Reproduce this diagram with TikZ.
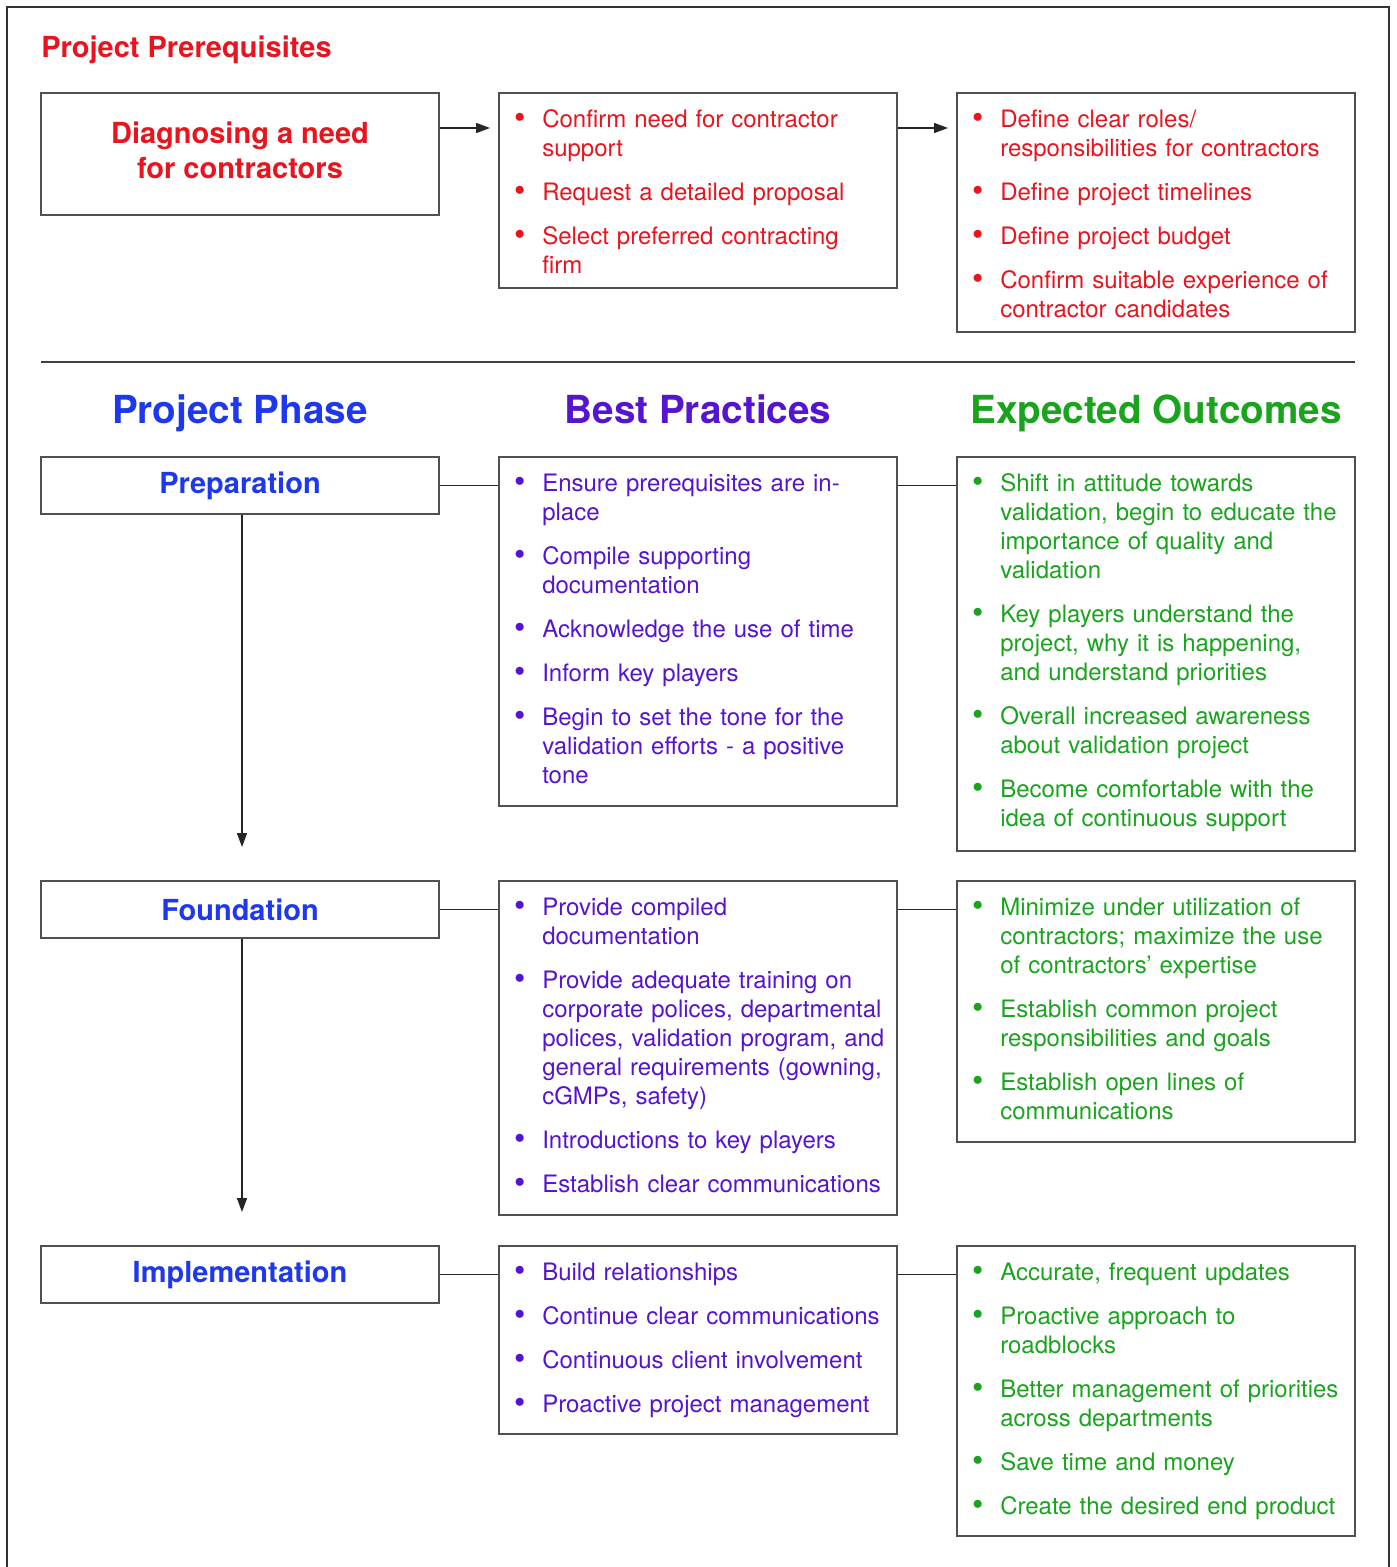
\documentclass[tikz,border=0pt]{standalone}
\usepackage{fontspec}
\setmainfont{TeX Gyre Heros}
\usetikzlibrary{arrows.meta,calc}
\definecolor{cred}{HTML}{E8141E}
\definecolor{cblue}{HTML}{1E38EE}
\definecolor{cpurp}{HTML}{5514D0}
\definecolor{cgreen}{HTML}{1AA41E}
\definecolor{cline}{HTML}{505050}
\newlength\bulw \setlength\bulw{21.75pt}
\newcommand\bitem[1]{\hangindent=\bulw\hangafter=1\noindent\makebox[\bulw][l]{\hspace{0.6pt}\raisebox{-0.9pt}{\scalebox{1.35}{\textbullet}}}#1\par}
\newcommand\blistfont{\fontsize{18pt}{21.75pt}\selectfont}
\newcommand\bl{\setlength\parskip{11.25pt}\setlength\parindent{0pt}}
\begin{document}
\begin{tikzpicture}[x=0.75pt,y=-0.75pt,
  box/.style={draw=cline, line width=1.4pt, inner sep=0pt, minimum width=298.5pt},
  conn/.style={draw=black!85, line width=1.1pt},
  arr/.style={conn, -{Triangle[length=10.5pt,width=7.5pt]}},
  lst/.style={anchor=base west, inner sep=0pt, text width=300pt, align=left, font=\blistfont},
  ptitle/.style={font=\fontsize{21.75pt}{26.25pt}\selectfont\bfseries, align=center},
  hdr/.style={anchor=base, font=\fontsize{29pt}{34pt}\selectfont\bfseries}]

\useasboundingbox (0,0) rectangle (1396,1567);
\draw[line width=1.4pt, draw=black!80] (7,1567) -- (7,7) -- (1389,7) -- (1389,1567);

% ---------- prerequisites ----------
\node[anchor=base west, inner sep=0pt, text=cred, font=\fontsize{21.75pt}{26pt}\selectfont\bfseries] (title) at (41,57) {Project Prerequisites};

\node[box, minimum height={122*0.75pt}, text=cred, ptitle] (diag) at (240,154) {\raisebox{1.5pt}{\begin{tabular}{@{}c@{}}Diagnosing a need\\for contractors\end{tabular}}};
\node[box, minimum height={195*0.75pt}] (bp0) at (698,190.5) {};
\node[box, minimum height={239*0.75pt}] (out0) at (1156,212.5) {};

\node[lst, text=cred] (bp0t) at (513,127) {\bl
\bitem{Confirm need for contractor\newline support}
\bitem{Request a detailed proposal}
\bitem{Select preferred contracting\newline firm}};

\node[lst, text=cred] (out0t) at (971,127) {\bl
\bitem{Define clear roles/\newline responsibilities for contractors}
\bitem{Define project timelines}
\bitem{Define project budget}
\bitem{Confirm suitable experience of\newline contractor candidates}};

\coordinate (a0) at ($(diag.east)+(0,-26)$);
\draw[arr, shorten >=6pt] (a0) -- (a0 -| bp0.west);
\draw[arr, shorten >=6pt] (a0 -| bp0.east) -- (a0 -| out0.west);

\draw[draw=black!75, line width=1pt] (41,362) -- (1355,362);

% ---------- headers ----------
\node[hdr, text=cblue] (h1) at (240,423) {Project Phase};
\node[hdr, text=cpurp] (h2) at (698,423) {Best Practices};
\node[hdr, text=cgreen] (h3) at (1156,423) {Expected Outcomes};

% ---------- phase boxes ----------
\node[box, minimum height={57*0.75pt}, text=cblue, ptitle] (prep) at (240,485.5) {Preparation};
\node[box, minimum height={349*0.75pt}] (bp1) at (698,631.5) {};
\node[box, minimum height={394*0.75pt}] (out1) at (1156,654) {};

\node[box, minimum height={57*0.75pt}, text=cblue, ptitle] (found) at (240,909.5) {Foundation};
\node[box, minimum height={334*0.75pt}] (bp2) at (698,1048) {};
\node[box, minimum height={261*0.75pt}] (out2) at (1156,1011.5) {};

\node[box, minimum height={57*0.75pt}, text=cblue, ptitle] (impl) at (240,1274.5) {Implementation};
\node[box, minimum height={188*0.75pt}] (bp3) at (698,1340) {};
\node[box, minimum height={290*0.75pt}] (out3) at (1156,1391) {};

% ---------- lists ----------
\node[lst, text=cpurp] (bp1t) at (513,491) {\bl
\bitem{Ensure prerequisites are in-\newline place}
\bitem{Compile supporting\newline documentation}
\bitem{Acknowledge the use of time}
\bitem{Inform key players}
\bitem{Begin to set the tone for the\newline validation efforts - a positive\newline tone}};

\node[lst, text=cgreen] (out1t) at (971,491) {\bl
\bitem{Shift in attitude towards\newline validation, begin to educate the\newline importance of quality and\newline validation}
\bitem{Key players understand the\newline project, why it is happening,\newline and understand priorities}
\bitem{Overall increased awareness\newline about validation project}
\bitem{Become comfortable with the\newline idea of continuous support}};

\node[lst, text=cpurp] (bp2t) at (513,915) {\bl
\bitem{Provide compiled\newline documentation}
\bitem{Provide adequate training on\newline corporate polices, departmental\newline polices, validation program, and\newline general requirements (gowning,\newline cGMPs, safety)}
\bitem{Introductions to key players}
\bitem{Establish clear communications}};

\node[lst, text=cgreen] (out2t) at (971,915) {\bl
\bitem{Minimize under utilization of\newline contractors; maximize the use\newline of contractors’ expertise}
\bitem{Establish common project\newline responsibilities and goals}
\bitem{Establish open lines of\newline communications}};

\node[lst, text=cpurp] (bp3t) at (513,1280) {\bl
\bitem{Build relationships}
\bitem{Continue clear communications}
\bitem{Continuous client involvement}
\bitem{Proactive project management}};

\node[lst, text=cgreen] (out3t) at (971,1280) {\bl
\bitem{Accurate, frequent updates}
\bitem{Proactive approach to\newline roadblocks}
\bitem{Better management of priorities\newline across departments}
\bitem{Save time and money}
\bitem{Create the desired end product}};

% ---------- connectors ----------
\draw[conn] (prep.east) -- (prep.east -| bp1.west);
\draw[conn] (prep.east -| bp1.east) -- (prep.east -| out1.west);
\draw[conn] (found.east) -- (found.east -| bp2.west);
\draw[conn] (found.east -| bp2.east) -- (found.east -| out2.west);
\draw[conn] (impl.east) -- (impl.east -| bp3.west);
\draw[conn] (impl.east -| bp3.east) -- (impl.east -| out3.west);

\draw[arr, shorten >=24.75pt] ([xshift=1.5pt]prep.south) -- ([xshift=1.5pt]found.north);
\draw[arr, shorten >=24.75pt] ([xshift=1.5pt]found.south) -- ([xshift=1.5pt]impl.north);
\end{tikzpicture}
\end{document}
